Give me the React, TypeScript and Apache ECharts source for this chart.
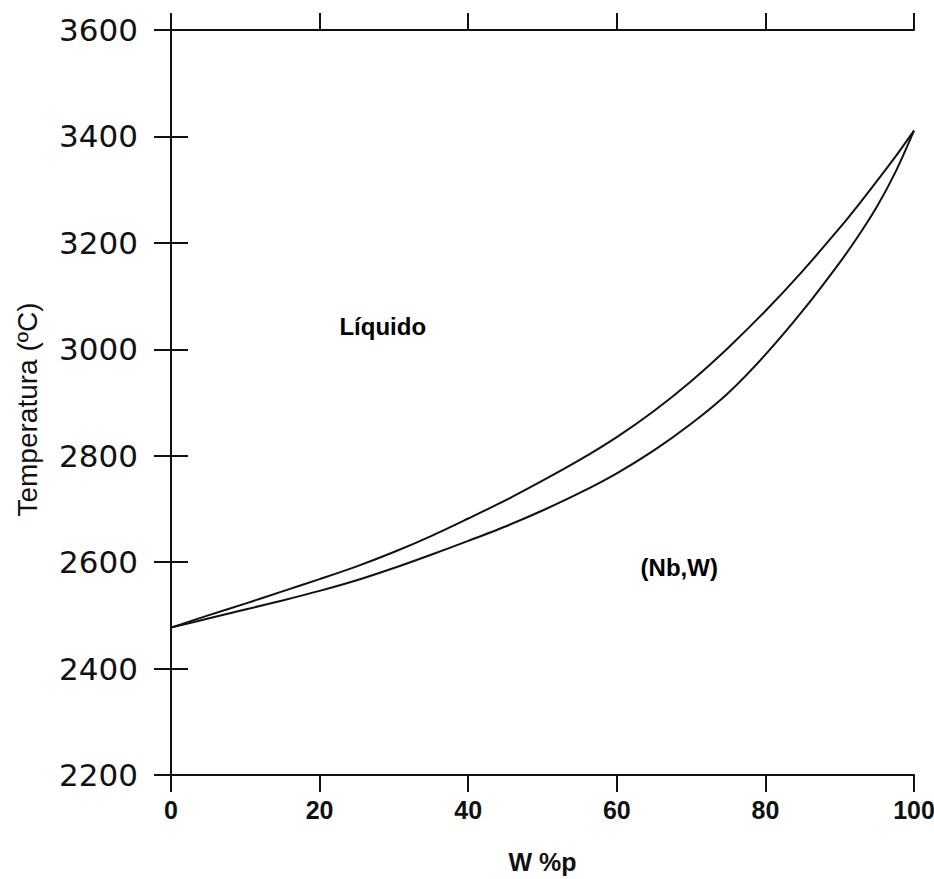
import React, { useEffect, useRef } from "react";
import * as echarts from "echarts";

// Nb–W binary phase diagram: composition (wt% W) vs temperature (°C)
const wPercent = [0, 5, 10, 15, 20, 25, 30, 35, 40, 45, 50, 55, 60, 65, 70, 75, 80, 85, 90, 92.5, 95, 97.5, 100];
const liquidus = [2477, 2500, 2522, 2545, 2568, 2592, 2619, 2649, 2682, 2716, 2753, 2792, 2835, 2884, 2940, 3003, 3072, 3147, 3228, 3271, 3316, 3362, 3411];
const solidus = [2477, 2494, 2511, 2528, 2546, 2566, 2589, 2614, 2640, 2667, 2697, 2730, 2767, 2810, 2860, 2918, 2990, 3072, 3163, 3213, 3268, 3333, 3411];

// Phase-field labels, placed in data coordinates
const regionNames = ["Líquido", "(Nb,W)"];
const regionW = [28.5, 68.4];
const regionT = [3042, 2589];

const INK = "#111";

export default function App() {
  const ref = useRef<HTMLDivElement>(null);

  useEffect(() => {
    if (!ref.current) return;
    const chart = echarts.init(ref.current, undefined, { renderer: "svg" });

    const axisLine = { show: true, lineStyle: { color: INK, width: 2 } };
    const axisTick = { show: true, inside: false, length: 17, lineStyle: { color: INK, width: 2 } };

    const toPairs = (ys: number[]) => wPercent.map((w, i) => [w, ys[i]]);

    chart.setOption({
      animation: false,
      backgroundColor: "#fff",
      grid: {
        left: 171,
        right: 20,
        top: 30,
        bottom: 104,
        containLabel: false,
        outerBoundsMode: "none",
      },
      xAxis: [
        {
          type: "value",
          position: "bottom",
          min: 0,
          max: 100,
          interval: 20,
          axisLine,
          axisTick,
          splitLine: { show: false },
          axisLabel: {
            margin: 22,
            color: INK,
            fontFamily: "Liberation Sans",
            fontWeight: "bold",
            fontSize: 25,
          },
          name: "W %p",
          nameLocation: "middle",
          nameGap: 74,
          nameTextStyle: {
            color: INK,
            fontFamily: "Liberation Sans",
            fontWeight: "bold",
            fontSize: 25,
          },
        },
        {
          type: "value",
          position: "top",
          min: 0,
          max: 100,
          interval: 20,
          axisLine,
          axisTick,
          splitLine: { show: false },
          axisLabel: { show: false },
        },
      ],
      yAxis: [
        {
          type: "value",
          position: "left",
          min: 2200,
          max: 3600,
          interval: 200,
          axisLine,
          axisTick,
          splitLine: { show: false },
          axisLabel: {
            margin: 33,
            color: INK,
            fontFamily: "DejaVu Sans",
            fontSize: 31,
            formatter: (v: number) => String(v),
          },
          name: "Temperatura (ºC)",
          nameLocation: "middle",
          nameGap: 130,
          nameRotate: 90,
          nameTextStyle: {
            color: INK,
            fontFamily: "Liberation Sans",
            fontSize: 28,
            padding: [0, 14, 0, 0],
          },
        },
        {
          type: "value",
          position: "right",
          min: 2200,
          max: 3600,
          interval: 200,
          axisLine,
          axisTick,
          splitLine: { show: false },
          axisLabel: { show: false },
        },
      ],
      series: [
        {
          name: "Liquidus",
          type: "line",
          data: toPairs(liquidus),
          smooth: 0.3,
          showSymbol: false,
          lineStyle: { color: INK, width: 2 },
        },
        {
          name: "Solidus",
          type: "line",
          data: toPairs(solidus),
          smooth: 0.3,
          showSymbol: false,
          lineStyle: { color: INK, width: 2 },
        },
        {
          name: "Regiones",
          type: "scatter",
          symbolSize: 1,
          itemStyle: { color: "rgba(0,0,0,0)", opacity: 1 },
          data: regionNames.map((n, i) => ({ name: n, value: [regionW[i], regionT[i]] })),
          label: {
            show: true,
            position: "inside",
            formatter: (p: any) => p.name,
            color: "#000",
            opacity: 1,
            textBorderWidth: 0,
            fontFamily: "Liberation Sans",
            fontWeight: "bold",
            fontSize: 24,
          },
        },
      ],
    });

    return () => chart.dispose();
  }, []);

  return (
    <div
      ref={ref}
      style={{ position: "fixed", left: 0, top: 0, width: 934, height: 879, background: "#fff" }}
    />
  );
}
